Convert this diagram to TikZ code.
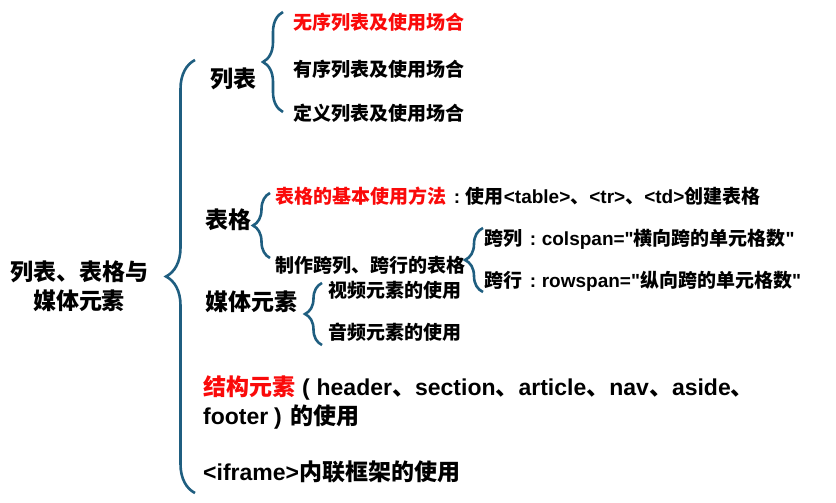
\documentclass[tikz,border=0pt]{standalone}
\usepackage{fontspec}
\setmainfont{Noto Sans CJK SC}
\newfontfamily\latinfont{Liberation Sans}
\usetikzlibrary{decorations.pathreplacing}
\definecolor{braceblue}{RGB}{31,94,128}
\definecolor{keyred}{RGB}{250,10,10}
\newcommand{\en}[1]{{\latinfont\bfseries #1}}
\newcommand{\colonsp}{\hspace{0.4em}\en{:}\hspace{0.3em}}

\begin{document}
\begin{tikzpicture}[x=1pt, y=-1pt,
    big/.style={anchor=west, inner sep=0pt, font=\fontsize{23}{29}\selectfont\bfseries,
                text height=19.5pt, text depth=2.3pt},
    small/.style={anchor=west, inner sep=0pt, font=\fontsize{19}{23}\selectfont\bfseries,
                  text height=16pt, text depth=1.9pt},
    multi/.style={inner sep=0pt, font=\fontsize{23}{29}\selectfont\bfseries},
    brc/.style={draw=braceblue, line width=2.6pt, decorate, decoration={brace, amplitude=#1}}]
    \fill[white] (0,0) rectangle (836,503);
    \useasboundingbox (0,0) rectangle (836,503);

    \node[multi, align=center] (root) at (79,286) {列表、表格与\\媒体元素};

    \node[big] (lst) at (210,79) {列表};
    \node[small, text=keyred] (lstA) at (293,22) {无序列表及使用场合};
    \node[small] (lstB) at (293,69) {有序列表及使用场合};
    \node[small] (lstC) at (293,113) {定义列表及使用场合};

    \node[big] (tbl) at (205,220) {表格};
    \node[small] (tblBasic) at (275,196) {\textcolor{keyred}{表格的基本使用方法}\colonsp 使用\en{<table>}、\en{<tr>}、\en{<td>}创建表格};
    \node[small] (tblSpan) at (275,265) {制作跨列、跨行的表格};
    \node[small] (spanCol) at (484,238) {跨列\colonsp\en{colspan="}横向跨的单元格数\en{"}};
    \node[small] (spanRow) at (484,280) {跨行\colonsp\en{rowspan="}纵向跨的单元格数\en{"}};

    \node[big] (media) at (205,302) {媒体元素};
    \node[small] (video) at (328,290) {视频元素的使用};
    \node[small] (audio) at (328,332) {音频元素的使用};

    \node[multi, anchor=west, align=left] (semantic) at (203,402.5) {\textcolor{keyred}{结构元素}\hspace{0.3em}\en{(}\hspace{0.3em}\en{header}、\en{section}、\en{article}、\en{nav}、\en{aside}、\\\en{footer}\hspace{0.25em}\en{)}\hspace{0.4em}的使用};
    \node[big] (iframe) at (203,472) {\en{<iframe>}内联框架的使用};

    \coordinate (mainTop) at (195,60);
    \coordinate (mainBot) at (195,493);
    \coordinate (lstTop) at (283,12);
    \coordinate (lstBot) at (283,112);
    \coordinate (tblTop) at (270,193);
    \coordinate (tblBot) at (270,258);
    \coordinate (spanTop) at (483,228);
    \coordinate (spanBot) at (483,292);
    \coordinate (mediaTop) at (322,283);
    \coordinate (mediaBot) at (322,345);

    \draw[brc=29] (mainBot) -- (mainTop);
    \draw[brc=20] (lstBot) -- (lstTop);
    \draw[brc=17] (tblBot) -- (tblTop);
    \draw[brc=18] (spanBot) -- (spanTop);
    \draw[brc=17] (mediaBot) -- (mediaTop);
\end{tikzpicture}
\end{document}
